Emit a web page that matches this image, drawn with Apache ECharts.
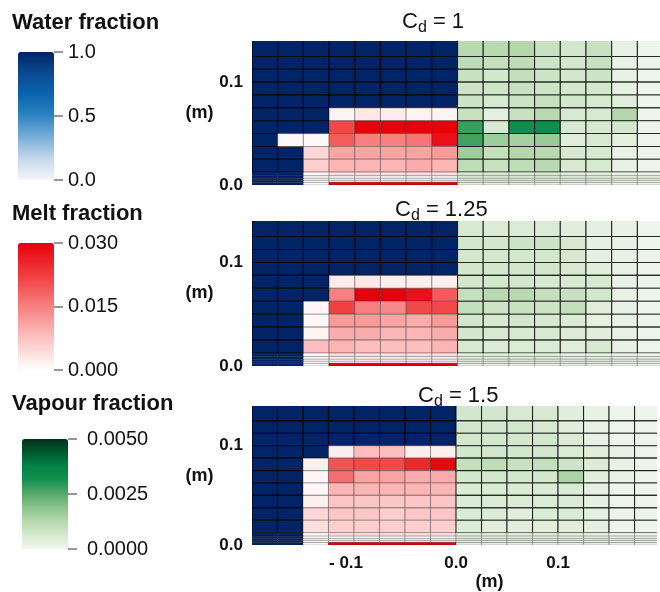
<!DOCTYPE html>
<html><head><meta charset="utf-8">
<script src="https://cdn.jsdelivr.net/npm/echarts@6/dist/echarts.min.js"></script>
<style>html,body{margin:0;padding:0;background:#fff}#c{width:660px;height:592px}</style>
</head><body><div id="c"></div>
<script>
// mesh cell edges (m)
const xEdges = [-0.2,-0.175,-0.15,-0.125,-0.1,-0.075,-0.05,-0.025,0,0.025,0.05,0.075,0.1,0.125,0.15,0.175,0.2];
const yEdges = [0.15,0.125,0.1125,0.1,0.0875,0.075,0.0625,0.05,0.0375,0.025,0.0125,0.009,0.0065,0.0045,0.0025,0]; // top -> bottom
const panelCd = ['1', '1.25', '1.5'];
const xTickValues = [-0.1, 0, 0.1];
const xTickLabels = ['- 0.1', '0.0', '0.1'];
const yTickValues = [0, 0.1];
const yTickLabels = ['0.0', '0.1'];
const waterTicks = [0, 0.5, 1];
const meltTicks = [0, 0.015, 0.03];
const vapourTicks = [0, 0.0025, 0.005];
const waterFull = 1;   // water fraction in cells marked N
const N = null;

// melt fraction, x < 0 columns (null = cell full of water)
const meltCd1 = [
  [N,N,N,N,N,N,N,N],
  [N,N,N,N,N,N,N,N],
  [N,N,N,N,N,N,N,N],
  [N,N,N,N,N,N,N,N],
  [N,N,N,N,N,N,N,N],
  [N,N,N,0.0015,0.003,0.0025,0.0015,0.0015],
  [N,N,N,0.021,0.030,0.030,0.030,0.030],
  [N,0.0008,0.0008,0.019,0.015,0.015,0.016,0.028],
  [N,N,0.005,0.011,0.011,0.011,0.011,0.012],
  [N,N,0.006,0.009,0.009,0.009,0.010,0.009],
  [N,N,0.001,0.004,0.004,0.004,0.004,0.004],
  [N,N,0.0005,0.001,0.001,0.001,0.001,0.001],
  [N,N,0.0005,0.001,0.001,0.001,0.001,0.001],
  [N,N,0.0005,0.001,0.001,0.001,0.001,0.001],
  [N,N,0.0005,0.030,0.030,0.030,0.030,0.030]
];
const meltCd125 = [
  [N,N,N,N,N,N,N,N],
  [N,N,N,N,N,N,N,N],
  [N,N,N,N,N,N,N,N],
  [N,N,N,N,N,N,N,N],
  [N,N,N,0.0025,0.003,0.002,0.002,0.002],
  [N,N,N,0.015,0.030,0.030,0.028,0.019],
  [N,N,0.001,0.022,0.015,0.014,0.021,0.021],
  [N,N,0.001,0.012,0.012,0.011,0.010,0.012],
  [N,N,0.0015,0.010,0.010,0.009,0.009,0.010],
  [N,N,0.008,0.009,0.008,0.008,0.008,0.009],
  [N,N,0.001,0.004,0.004,0.004,0.004,0.004],
  [N,N,0.0005,0.001,0.001,0.001,0.001,0.001],
  [N,N,0.0005,0.001,0.001,0.001,0.001,0.001],
  [N,N,0.0005,0.001,0.001,0.001,0.001,0.001],
  [N,N,0.0005,0.030,0.030,0.030,0.030,0.030]
];
const meltCd15 = [
  [N,N,N,N,N,N,N,N],
  [N,N,N,N,N,N,N,N],
  [N,N,N,N,N,N,N,N],
  [N,N,N,0.002,0.008,0.008,0.002,0.002],
  [N,N,0.002,0.020,0.021,0.021,0.025,0.029],
  [N,N,0.001,0.017,0.011,0.011,0.010,0.010],
  [N,N,0.001,0.009,0.009,0.009,0.009,0.009],
  [N,N,0.002,0.007,0.007,0.007,0.007,0.007],
  [N,N,0.005,0.007,0.007,0.006,0.007,0.007],
  [N,N,0.004,0.006,0.006,0.006,0.006,0.006],
  [N,N,0.001,0.004,0.004,0.004,0.004,0.004],
  [N,N,0.0005,0.001,0.001,0.001,0.001,0.001],
  [N,N,0.0005,0.001,0.001,0.001,0.001,0.001],
  [N,N,0.0005,0.001,0.001,0.001,0.001,0.001],
  [N,N,0.0005,0.030,0.030,0.030,0.030,0.030]
];

// vapour fraction, x > 0 columns
const vapourCd1 = [
  [0.0012,0.0012,0.0013,0.0009,0.0007,0.0009,0.0002,0.0001],
  [0.0011,0.0010,0.0011,0.0008,0.0007,0.0009,0.0002,0.0001],
  [0.0009,0.0007,0.0010,0.0008,0.0007,0.0008,0.0002,0.0001],
  [0.0008,0.0008,0.0009,0.0008,0.0007,0.0007,0.0003,0.0001],
  [0.0008,0.0006,0.0008,0.0009,0.0007,0.0006,0.0004,0.0001],
  [0.0009,0.0003,0.0009,0.0012,0.0006,0.0006,0.0013,0.0001],
  [0.0028,0.0006,0.0033,0.0033,0.0006,0.0006,0.0007,0.0001],
  [0.0027,0.0016,0.0015,0.0017,0.0004,0.0006,0.0003,0.0001],
  [0.0016,0.0010,0.0013,0.0012,0.0006,0.0006,0.0002,0.0001],
  [0.0011,0.0009,0.0011,0.0012,0.0006,0.0006,0.0002,0.0001],
  [0.0006,0.0006,0.0006,0.0006,0.0004,0.0004,0.0002,0.0001],
  [0.0003,0.0003,0.0003,0.0003,0.0002,0.0002,0.0001,0.0001],
  [0.0003,0.0003,0.0003,0.0003,0.0002,0.0002,0.0001,0.0001],
  [0.0003,0.0003,0.0003,0.0003,0.0002,0.0002,0.0001,0.0001],
  [0.0003,0.0003,0.0003,0.0003,0.0002,0.0002,0.0001,0.0001]
];
const vapourCd125 = [
  [0.0006,0.0005,0.0005,0.0005,0.0004,0.0003,0.0002,0.0001],
  [0.0007,0.0007,0.0008,0.0008,0.0006,0.0003,0.0002,0.0001],
  [0.0007,0.0007,0.0007,0.0007,0.0006,0.0003,0.0002,0.0001],
  [0.0007,0.0007,0.0007,0.0007,0.0006,0.0004,0.0002,0.0001],
  [0.0007,0.0007,0.0007,0.0006,0.0006,0.0006,0.0002,0.0001],
  [0.0010,0.0012,0.0012,0.0010,0.0009,0.0007,0.0002,0.0001],
  [0.0010,0.0008,0.0009,0.0008,0.0010,0.0004,0.0002,0.0001],
  [0.0007,0.0006,0.0007,0.0006,0.0005,0.0003,0.0002,0.0001],
  [0.0007,0.0006,0.0006,0.0006,0.0005,0.0004,0.0002,0.0001],
  [0.0006,0.0005,0.0005,0.0005,0.0004,0.0006,0.0002,0.0001],
  [0.0004,0.0004,0.0004,0.0004,0.0003,0.0003,0.0002,0.0001],
  [0.0002,0.0002,0.0002,0.0002,0.0002,0.0002,0.0001,0.0001],
  [0.0002,0.0002,0.0002,0.0002,0.0002,0.0002,0.0001,0.0001],
  [0.0002,0.0002,0.0002,0.0002,0.0002,0.0002,0.0001,0.0001],
  [0.0002,0.0002,0.0002,0.0002,0.0002,0.0002,0.0001,0.0001]
];
const vapourCd15 = [
  [0.0007,0.0007,0.0006,0.0006,0.0004,0.0002,0.0001,0.0001],
  [0.0007,0.0007,0.0007,0.0006,0.0004,0.0002,0.0001,0.0001],
  [0.0007,0.0007,0.0007,0.0007,0.0005,0.0002,0.0001,0.0001],
  [0.0007,0.0007,0.0007,0.0007,0.0005,0.0004,0.0002,0.0001],
  [0.0010,0.0011,0.0009,0.0010,0.0008,0.0005,0.0002,0.0001],
  [0.0007,0.0007,0.0007,0.0007,0.0014,0.0004,0.0002,0.0001],
  [0.0005,0.0005,0.0005,0.0005,0.0005,0.0003,0.0001,0.0001],
  [0.0005,0.0005,0.0005,0.0005,0.0005,0.0003,0.0001,0.0001],
  [0.0005,0.0005,0.0004,0.0005,0.0005,0.0003,0.0001,0.0001],
  [0.0005,0.0004,0.0004,0.0004,0.0004,0.0003,0.0001,0.0001],
  [0.0004,0.0004,0.0004,0.0004,0.0003,0.0002,0.0001,0.0001],
  [0.0002,0.0002,0.0002,0.0002,0.0002,0.0002,0.0001,0.0001],
  [0.0002,0.0002,0.0002,0.0002,0.0002,0.0002,0.0001,0.0001],
  [0.0002,0.0002,0.0002,0.0002,0.0002,0.0002,0.0001,0.0001],
  [0.0002,0.0002,0.0002,0.0002,0.0002,0.0002,0.0001,0.0001]
];

const meltPanels = [meltCd1, meltCd125, meltCd15];
const vapourPanels = [vapourCd1, vapourCd125, vapourCd15];

const FONT = "'Liberation Sans', Arial, sans-serif";

function cellsWater(m) {
  const out = [];
  m.forEach((row, r) => row.forEach((v, c) => {
    if (v === null) out.push([xEdges[c], xEdges[c + 1], yEdges[r + 1], yEdges[r], waterFull]);
  }));
  return out;
}
function cellsMelt(m) {
  const out = [];
  m.forEach((row, r) => row.forEach((v, c) => {
    if (v !== null) out.push([xEdges[c], xEdges[c + 1], yEdges[r + 1], yEdges[r], v]);
  }));
  return out;
}
function cellsVapour(m) {
  const out = [];
  m.forEach((row, r) => row.forEach((v, c) => {
    out.push([xEdges[8 + c], xEdges[9 + c], yEdges[r + 1], yEdges[r], v]);
  }));
  return out;
}
function makeRender(strokeMain, darkBottom) {
  return function (params, api) {
    const p0 = api.coord([api.value(0), api.value(3)]);
    const p1 = api.coord([api.value(1), api.value(2)]);
    const thin = (api.value(3) - api.value(2)) < 0.006;
    const isBottomMelt = darkBottom && api.value(2) === 0 && api.value(4) >= 0.03;
    return {
      type: 'rect',
      shape: { x: p0[0], y: p0[1], width: p1[0] - p0[0], height: p1[1] - p0[1] },
      style: {
        fill: api.visual('color'),
        stroke: isBottomMelt ? 'rgba(150,0,10,0.9)' : (thin ? 'rgba(0,0,0,0.3)' : strokeMain),
        lineWidth: thin ? 0.8 : 1.1
      }
    };
  };
}
function series(kind, p, data, stroke) {
  return {
    type: 'custom', name: kind + p, xAxisIndex: p, yAxisIndex: p, clip: true,
    dimensions: ['x0', 'x1', 'y0', 'y1', 'v'],
    encode: { x: [0, 1], y: [2, 3] },
    renderItem: makeRender(stroke, kind === 'melt'), data: data, silent: true
  };
}

const seriesList = [];
[0, 1, 2].forEach(p => seriesList.push(series('water', p, cellsWater(meltPanels[p]), 'rgba(0,0,0,0.8)')));
[0, 1, 2].forEach(p => seriesList.push(series('melt', p, cellsMelt(meltPanels[p]), 'rgba(40,40,40,0.35)')));
[0, 1, 2].forEach(p => seriesList.push(series('vapour', p, cellsVapour(vapourPanels[p]), 'rgba(0,0,0,0.75)')));

function pick(vals, labels, negRich) {
  return v => {
    const i = vals.findIndex(t => Math.abs(t - v) < 1e-7);
    if (i < 0) return '';
    return (negRich && vals[i] < 0) ? '{neg|' + labels[i] + '}' : labels[i];
  };
}

const panelGrids = [
  { left: 252, top: 41, width: 408, height: 144 },
  { left: 252, top: 221, width: 408, height: 145 },
  { left: 252, top: 406, width: 408, height: 145 }
];
const barGrids = [
  { left: 18, top: 52, width: 36, height: 128 },
  { left: 18, top: 243, width: 36, height: 127 },
  { left: 22, top: 439, width: 46, height: 110 }
];

const axisLabelFont = { fontSize: 17, fontWeight: 'bold', color: '#111', fontFamily: FONT };
const xAxes = [], yAxes = [];
[0, 1, 2].forEach(p => {
  xAxes.push({
    type: 'value', gridIndex: p, min: -0.2, max: 0.197, interval: 0.1,
    axisLine: { show: false, onZero: false }, axisTick: { show: false }, splitLine: { show: false },
    axisLabel: Object.assign({ show: p === 2, margin: 10, formatter: pick(xTickValues, xTickLabels, true),
      rich: { neg: Object.assign({ padding: [0, 16, 0, 0] }, axisLabelFont) } }, axisLabelFont),
    name: p === 2 ? '(m)' : '', nameLocation: 'middle', nameGap: 25,
    nameTextStyle: { fontSize: 18, fontWeight: 'bold', color: '#111', fontFamily: FONT, padding: [0, 0, 0, 70] }
  });
  yAxes.push({
    type: 'value', gridIndex: p, min: 0, max: 0.14, interval: 0.1,
    axisLine: { show: false, onZero: false }, axisTick: { show: false }, splitLine: { show: false },
    axisLabel: Object.assign({ margin: 9, formatter: pick(yTickValues, yTickLabels, false) }, axisLabelFont),
    name: '(m)', nameLocation: 'middle', nameRotate: 0, nameGap: 19,
    nameTextStyle: { fontSize: 18, fontWeight: 'bold', color: '#111', fontFamily: FONT, padding: [34, 0, 0, 0] }
  });
});
const barTickSets = [waterTicks, meltTicks, vapourTicks];
const barDigits = [1, 3, 4];
const barMargins = [14, 14, 19];
[0, 1, 2].forEach(b => {
  const t = barTickSets[b];
  xAxes.push({ type: 'value', gridIndex: 3 + b, show: false, min: 0, max: 1,
    axisLine: { onZero: false } });
  yAxes.push({
    type: 'value', gridIndex: 3 + b, position: 'right', min: t[0], max: t[2], interval: t[1], z: 10,
    axisLine: { show: false, onZero: false }, splitLine: { show: false },
    axisTick: { show: true, inside: false, length: 9, lineStyle: { color: '#777', width: 1.5 } },
    axisLabel: { margin: barMargins[b], fontSize: 20, color: '#111', fontFamily: FONT,
      formatter: v => v.toFixed(barDigits[b]) }
  });
});

const titleStyle = { fontSize: 22, fontWeight: 'bold', color: '#111', fontFamily: FONT };
const panelTitleTops = [8, 196, 382];
const panelTitleLefts = [402, 395, 418];
const titles = [
  { text: 'Water fraction', left: 12, top: 12, padding: 0, textStyle: titleStyle },
  { text: 'Melt fraction', left: 12, top: 203, padding: 0, textStyle: titleStyle },
  { text: 'Vapour fraction', left: 12, top: 393, padding: 0, textStyle: titleStyle }
];
[0, 1, 2].forEach(p => titles.push({
  text: '{c|C}{s|d}{c| = ' + panelCd[p] + '}', left: panelTitleLefts[p], top: panelTitleTops[p], padding: 0,
  textStyle: { fontWeight: 'normal', rich: {
    c: { fontSize: 22, lineHeight: 28, fontWeight: 'normal', color: '#111', fontFamily: FONT },
    s: { fontSize: 16, lineHeight: 15, fontWeight: 'normal', verticalAlign: 'bottom', color: '#111', fontFamily: FONT }
  } }
}));

const option = {
  animation: false,
  backgroundColor: '#fff',
  title: titles,
  grid: panelGrids.concat(barGrids),
  xAxis: xAxes,
  yAxis: yAxes,
  visualMap: [
    { type: 'continuous', min: 0, max: 1, dimension: 4, seriesIndex: [0, 1, 2],
      left: barGrids[0].left, top: barGrids[0].top, itemWidth: barGrids[0].width, itemHeight: barGrids[0].height,
      padding: 0, calculable: false, hoverLink: false,
      inRange: { color: ['#f4f6fb', '#c4d7ec', '#7aaed8', '#2f84c2', '#0a66ad', '#0a4a93', '#012466'] } },
    { type: 'continuous', min: 0, max: 0.03, dimension: 4, seriesIndex: [3, 4, 5],
      left: barGrids[1].left, top: barGrids[1].top, itemWidth: barGrids[1].width, itemHeight: barGrids[1].height,
      padding: 0, calculable: false, hoverLink: false,
      inRange: { color: ['#ffffff', '#fcc2c2', '#f77f80', '#f03c3e', '#e6000b'] } },
    { type: 'continuous', min: 0, max: 0.005, dimension: 4, seriesIndex: [6, 7, 8],
      left: barGrids[2].left, top: barGrids[2].top, itemWidth: barGrids[2].width, itemHeight: barGrids[2].height,
      padding: 0, calculable: false, hoverLink: false,
      inRange: { color: ['#f1f6ee', '#d6e9d0', '#b6d8ae', '#8cc58e', '#55aa6a', '#159251', '#008446', '#005a30', '#00301a'] } }
  ],
  series: seriesList
};
const chart = echarts.init(document.getElementById('c'), null, { renderer: 'canvas' });
chart.setOption(option);
</script></body></html>
